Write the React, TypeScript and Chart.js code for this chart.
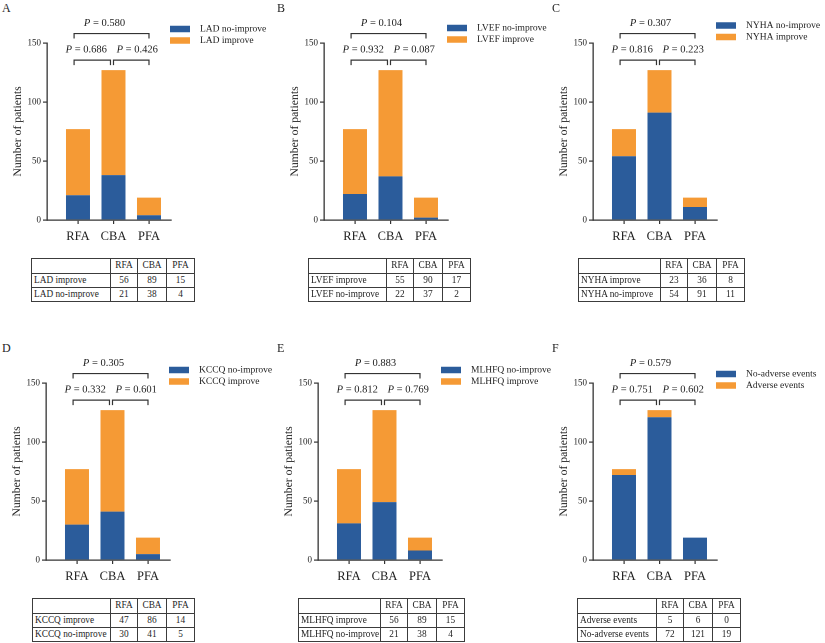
import React, { useEffect, useRef } from 'react';
import { Chart, registerables } from 'chart.js';

Chart.register(...registerables);

const FONT = '"Liberation Serif", "Times New Roman", serif';
const BLUE = '#2b5c9b';
const ORANGE = '#f59a35';
const INK = '#1e1e1e';
const AXIS = '#333333';

// ---- data ----
const categories = ['RFA', 'CBA', 'PFA'];
const yTicks = [0, 50, 100, 150];

const ladNoImprove = [21, 38, 4];
const ladImprove = [56, 89, 15];
const ladP = ['0.580', '0.686', '0.426'];

const lvefNoImprove = [22, 37, 2];
const lvefImprove = [55, 90, 17];
const lvefP = ['0.104', '0.932', '0.087'];

const nyhaNoImprove = [54, 91, 11];
const nyhaImprove = [23, 36, 8];
const nyhaP = ['0.307', '0.816', '0.223'];

const kccqNoImprove = [30, 41, 5];
const kccqImprove = [47, 86, 14];
const kccqP = ['0.305', '0.332', '0.601'];

// bars as drawn in panel E
const mlhfqNoImproveBars = [31, 49, 8];
const mlhfqImproveBars = [46, 78, 11];
// table as printed in panel E
const mlhfqImproveTable = [56, 89, 15];
const mlhfqNoImproveTable = [21, 38, 4];
const mlhfqP = ['0.883', '0.812', '0.769'];

const noAdverse = [72, 121, 19];
const adverse = [5, 6, 0];
const adverseP = ['0.579', '0.751', '0.602'];

// bracket levels (data units) and ends (category index units)
const bracketLevels = [158, 135.5, 135.5];
const bracketFrom = [-0.11, -0.11, 1.0];
const bracketTo = [2.0, 0.915, 2.0];

type PanelCfg = {
  letter: string;
  labels: [string, string];
  bottom: number[];
  top: number[];
  rowLabels: [string, string];
  rows: [number[], number[]];
  p: string[];
  dx: number;
  tableLeft: number;
  firstCol: number;
  legendY: number;
};

const panels: PanelCfg[] = [
  { letter: 'A', labels: ['LAD no-improve', 'LAD improve'], bottom: ladNoImprove, top: ladImprove,
    rowLabels: ['LAD improve', 'LAD no-improve'], rows: [ladImprove, ladNoImprove], p: ladP,
    dx: 2, tableLeft: 31, firstCol: 79, legendY: 29 },
  { letter: 'B', labels: ['LVEF no-improve', 'LVEF improve'], bottom: lvefNoImprove, top: lvefImprove,
    rowLabels: ['LVEF improve', 'LVEF no-improve'], rows: [lvefImprove, lvefNoImprove], p: lvefP,
    dx: 4, tableLeft: 33, firstCol: 78, legendY: 28 },
  { letter: 'C', labels: ['NYHA no-improve', 'NYHA improve'], bottom: nyhaNoImprove, top: nyhaImprove,
    rowLabels: ['NYHA improve', 'NYHA no-improve'], rows: [nyhaImprove, nyhaNoImprove], p: nyhaP,
    dx: -2, tableLeft: 28, firstCol: 82, legendY: 25.5 },
  { letter: 'D', labels: ['KCCQ no-improve', 'KCCQ improve'], bottom: kccqNoImprove, top: kccqImprove,
    rowLabels: ['KCCQ improve', 'KCCQ no-improve'], rows: [kccqImprove, kccqNoImprove], p: kccqP,
    dx: 1, tableLeft: 32, firstCol: 78, legendY: 30 },
  { letter: 'E', labels: ['MLHFQ no-improve', 'MLHFQ improve'], bottom: mlhfqNoImproveBars, top: mlhfqImproveBars,
    rowLabels: ['MLHFQ improve', 'MLHFQ no-improve'], rows: [mlhfqImproveTable, mlhfqNoImproveTable], p: mlhfqP,
    dx: -2, tableLeft: 23, firstCol: 82, legendY: 30 },
  { letter: 'F', labels: ['No-adverse events', 'Adverse events'], bottom: noAdverse, top: adverse,
    rowLabels: ['Adverse events', 'No-adverse events'], rows: [adverse, noAdverse], p: adverseP,
    dx: -2, tableLeft: 27, firstCol: 79, legendY: 34 },
];

const numCols = [27, 29, 28];
const bracketTextDx = [-7, -6, 6];
const CANVAS_W = 290;
const CANVAS_H = 250;

function drawP(ctx: CanvasRenderingContext2D, cx: number, cy: number, val: string) {
  const italic = `italic 10.5px ${FONT}`;
  const normal = `10.5px ${FONT}`;
  ctx.font = italic;
  const wP = ctx.measureText('P').width;
  ctx.font = normal;
  const rest = ' = ' + val;
  const wR = ctx.measureText(rest).width;
  const start = cx - (wP + wR) / 2;
  ctx.fillStyle = INK;
  ctx.textBaseline = 'middle';
  ctx.textAlign = 'left';
  ctx.font = italic;
  ctx.fillText('P', start, cy);
  ctx.font = normal;
  ctx.fillText(rest, start + wP, cy);
}

function Panel({ cfg }: { cfg: PanelCfg }) {
  const ref = useRef<HTMLCanvasElement | null>(null);

  useEffect(() => {
    if (!ref.current) return;
    const annot = {
      id: 'annot',
      afterDraw(chart: any) {
        const { ctx, scales, chartArea } = chart;
        const xs = scales.x;
        const ys = scales.y;
        ctx.save();
        for (let i = 0; i < 3; i++) {
          const x1 = xs.getPixelForValue(bracketFrom[i]);
          const x2 = xs.getPixelForValue(bracketTo[i]);
          const py = ys.getPixelForValue(bracketLevels[i]);
          ctx.strokeStyle = AXIS;
          ctx.lineWidth = 1.2;
          ctx.beginPath();
          ctx.moveTo(x1, py + 5);
          ctx.lineTo(x1, py);
          ctx.lineTo(x2, py);
          ctx.lineTo(x2, py + 5);
          ctx.stroke();
          drawP(ctx, (x1 + x2) / 2 + bracketTextDx[i], py - 10.5, cfg.p[i]);
        }
        // legend
        const bx = chartArea.right - 1;
        chart.data.datasets.forEach((ds: any, i: number) => {
          const cy = cfg.legendY + i * 11.5;
          ctx.fillStyle = ds.backgroundColor;
          ctx.fillRect(bx, cy - 3.25, 20, 6.5);
          ctx.fillStyle = INK;
          ctx.font = `9.5px ${FONT}`;
          ctx.textBaseline = 'middle';
          ctx.textAlign = 'left';
          ctx.fillText(ds.label, bx + 30, cy);
        });
        ctx.restore();
      },
    };

    const chart = new Chart(ref.current, {
      type: 'bar',
      data: {
        datasets: [
          {
            label: cfg.labels[0],
            data: cfg.bottom.map((v, i) => ({ x: i, y: v })),
            backgroundColor: BLUE,
            borderWidth: 0,
            barPercentage: 0.676,
            categoryPercentage: 1,
          },
          {
            label: cfg.labels[1],
            data: cfg.top.map((v, i) => ({ x: i, y: v })),
            backgroundColor: ORANGE,
            borderWidth: 0,
            barPercentage: 0.676,
            categoryPercentage: 1,
          },
        ],
      },
      options: {
        animation: false,
        responsive: false,
        devicePixelRatio: 2,
        layout: { padding: { left: 0, top: 43, right: CANVAS_W - 169, bottom: 0 } },
        plugins: { legend: { display: false }, tooltip: { enabled: false } },
        scales: {
          x: {
            type: 'linear',
            stacked: true,
            offset: false,
            min: -0.873,
            max: 2.62,
            bounds: 'data',
            afterBuildTicks: (s: any) => {
              s.ticks = categories.map((_, i) => ({ value: i }));
            },
            afterFit: (s: any) => {
              s.height = 30;
            },
            ticks: {
              autoSkip: false,
              maxRotation: 0,
              padding: 5,
              color: INK,
              font: { family: FONT, size: 12.5 },
              callback: (v: any) => categories[v as number] ?? '',
            },
            grid: { display: true, offset: false, drawOnChartArea: false, drawTicks: true, tickLength: 4, color: AXIS, lineWidth: 1.2 },
            border: { display: true, color: AXIS, width: 1.3 },
          },
          y: {
            type: 'linear',
            stacked: true,
            min: 0,
            max: 150,
            afterBuildTicks: (s: any) => {
              s.ticks = yTicks.map((v) => ({ value: v }));
            },
            afterFit: (s: any) => {
              s.width = 45;
            },
            ticks: {
              autoSkip: false,
              padding: 2,
              color: INK,
              font: { family: FONT, size: 9 },
            },
            grid: { display: true, drawOnChartArea: false, drawTicks: true, tickLength: 4, color: AXIS, lineWidth: 1.2 },
            border: { display: true, color: AXIS, width: 1.3 },
            title: {
              display: true,
              text: 'Number of patients',
              color: INK,
              font: { family: FONT, size: 11.7 },
              padding: { top: 9, bottom: 0 },
            },
          },
        },
      },
      plugins: [annot],
    } as any);
    return () => chart.destroy();
  }, [cfg]);

  const cell: React.CSSProperties = {
    border: '1px solid #3c3c3c',
    padding: '0 1px',
    textAlign: 'center',
    lineHeight: '1',
    whiteSpace: 'nowrap',
    overflow: 'hidden',
    color: INK,
  };
  const tableWidth = cfg.firstCol + numCols.reduce((a, b) => a + b, 0);

  return (
    <>
      <div style={{ position: 'absolute', left: 2, top: 1, fontFamily: FONT, fontSize: 12, color: INK }}>
        {cfg.letter}
      </div>
      <canvas
        ref={ref}
        width={CANVAS_W}
        height={CANVAS_H}
        style={{ position: 'absolute', left: cfg.dx, top: 0, width: CANVAS_W, height: CANVAS_H }}
      />
      <table
        style={{
          position: 'absolute',
          left: cfg.tableLeft,
          top: 258,
          borderCollapse: 'collapse',
          tableLayout: 'fixed',
          width: tableWidth,
          fontFamily: FONT,
          fontSize: 9.3,
          color: INK,
          border: '1.3px solid #333',
        }}
      >
        <colgroup>
          <col style={{ width: cfg.firstCol }} />
          {numCols.map((w, i) => (
            <col key={i} style={{ width: w }} />
          ))}
        </colgroup>
        <tbody>
          <tr style={{ height: 15 }}>
            <td style={cell}></td>
            {categories.map((c) => (
              <td key={c} style={cell}>{c}</td>
            ))}
          </tr>
          {cfg.rows.map((row, r) => (
            <tr key={r} style={{ height: 14 }}>
              <td style={{ ...cell, textAlign: 'left', paddingLeft: 2, paddingRight: 0 }}>{cfg.rowLabels[r]}</td>
              {row.map((v, i) => (
                <td key={i} style={cell}>{v}</td>
              ))}
            </tr>
          ))}
        </tbody>
      </table>
    </>
  );
}

export default function App() {
  return (
    <div style={{ position: 'absolute', left: 0, top: 0, width: 825, height: 643, background: '#fff', overflow: 'hidden' }}>
      {panels.map((cfg, i) => (
        <div
          key={cfg.letter}
          style={{ position: 'absolute', left: (i % 3) * 275, top: Math.floor(i / 3) * 340, width: 275, height: 303 }}
        >
          <Panel cfg={cfg} />
        </div>
      ))}
    </div>
  );
}
